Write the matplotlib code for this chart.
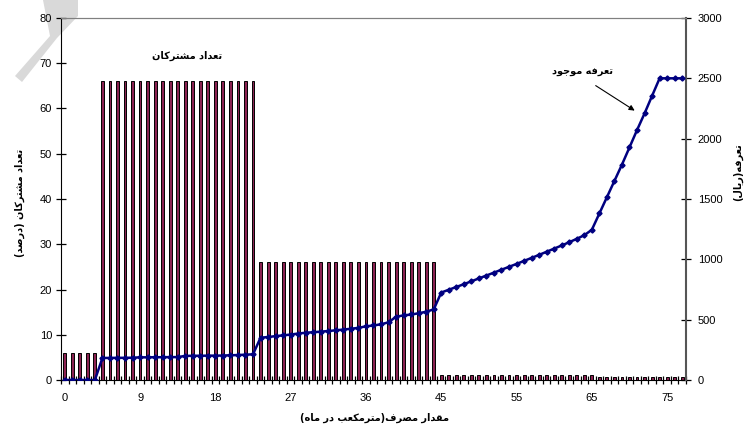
import numpy as np
import matplotlib
matplotlib.use('Agg')
import matplotlib.pyplot as plt
from matplotlib.patches import Polygon

plt.rcParams['font.family'] = ['Liberation Sans', 'DejaVu Sans']

# Data (83 consumption categories)
tick_labels = ['0', '9', '18', '27', '36', '45', '55', '65', '75']

# share of subscribers (%) per category
subscribers = [6, 6, 6, 6, 6,
               66, 66, 66, 66, 66, 66, 66, 66, 66, 66, 66, 66, 66, 66, 66, 66, 66, 66, 66, 66, 66,
               26, 26, 26, 26, 26, 26, 26, 26, 26, 26, 26, 26, 26, 26, 26, 26, 26, 26, 26, 26, 26, 26, 26, 26,
               1.2, 1.2, 1.2, 1.2, 1.2, 1.2, 1.2, 1.2, 1.2, 1.2, 1.2, 1.2, 1.2, 1.2, 1.2, 1.2, 1.2, 1.2, 1.2, 1.2, 1.2,
               0.6, 0.6, 0.6, 0.6, 0.6, 0.6, 0.6, 0.6, 0.6, 0.6, 0.6, 0.6]

# current tariff (rial) per category
tariff = [0, 0, 0, 0, 0,
          183, 183, 184, 184, 185, 188, 188, 189, 189, 190, 190, 200, 201, 201, 202, 202, 203, 205, 207, 210, 213,
          351, 356, 364, 370, 377, 385, 392, 396, 401, 406, 412, 418, 425, 432, 445, 452, 462, 478, 525, 535, 543, 553, 566, 585,
          725, 748, 771, 794, 818, 842, 866, 890, 914, 938, 962, 987, 1012, 1037, 1063, 1089, 1115, 1142, 1170, 1200, 1245,
          1380, 1515, 1650, 1785, 1928, 2071, 2209, 2355, 2500, 2500, 2500, 2500]

# Persian text
lbl_subs = 'تعداد مشترکان'
lbl_tariff = 'تعرفه موجود'
ylab_left = 'تعداد مشترکان (درصد)'
ylab_right = 'تعرفه(ریال)'
xlab = 'مقدار مصرف(مترمکعب در ماه)'

# simple arabic/persian shaping (no bidi lib available)
FORMS = {
    'ا': ('\uFE8D', '\uFE8E', None, None),
    'د': ('\uFEA9', '\uFEAA', None, None),
    'ر': ('\uFEAD', '\uFEAE', None, None),
    'و': ('\uFEED', '\uFEEE', None, None),
    'ب': ('\uFE8F', '\uFE90', '\uFE91', '\uFE92'),
    'ت': ('\uFE95', '\uFE96', '\uFE97', '\uFE98'),
    'ج': ('\uFE9D', '\uFE9E', '\uFE9F', '\uFEA0'),
    'ش': ('\uFEB5', '\uFEB6', '\uFEB7', '\uFEB8'),
    'ص': ('\uFEB9', '\uFEBA', '\uFEBB', '\uFEBC'),
    'ع': ('\uFEC9', '\uFECA', '\uFECB', '\uFECC'),
    'ف': ('\uFED1', '\uFED2', '\uFED3', '\uFED4'),
    'ق': ('\uFED5', '\uFED6', '\uFED7', '\uFED8'),
    'ل': ('\uFEDD', '\uFEDE', '\uFEDF', '\uFEE0'),
    'م': ('\uFEE1', '\uFEE2', '\uFEE3', '\uFEE4'),
    'ن': ('\uFEE5', '\uFEE6', '\uFEE7', '\uFEE8'),
    'ه': ('\uFEE9', '\uFEEA', '\uFEEB', '\uFEEC'),
    'ک': ('\uFB8E', '\uFB8F', '\uFB90', '\uFB91'),
    'ی': ('\uFBFC', '\uFBFD', '\uFBFE', '\uFBFF'),
}

def shape(text):
    n = len(text)
    dual = lambda c: c in FORMS and FORMS[c][2] is not None
    out = []
    for i, c in enumerate(text):
        if c not in FORMS:
            out.append(c)
            continue
        p = i > 0 and dual(text[i-1])
        nx = dual(c) and i + 1 < n and text[i+1] in FORMS
        iso, fin, ini, med = FORMS[c]
        if p and nx:
            out.append(med)
        elif p:
            out.append(fin)
        elif nx:
            out.append(ini)
        else:
            out.append(iso)
    s = ''.join(out)[::-1]
    return s.replace('(', '\0').replace(')', '(').replace('\0', ')')

fa = dict(family='DejaVu Sans', fontweight='bold', fontsize=7)

fig = plt.figure(figsize=(7.44, 4.28), dpi=100)

# faded watermark stroke in the corner (pixel coords, y down)
wm_pts = np.array([(43, 0), (78, 0), (78, 16), (57, 38), (22, 82), (15, 76), (50, 36)])
wm = Polygon(np.column_stack([wm_pts[:, 0] / 744, 1 - wm_pts[:, 1] / 428]), closed=True,
             transform=fig.transFigure, facecolor='#d9d9d9', edgecolor='none', zorder=-1)
fig.patches.append(wm)

ax = fig.add_axes([0.082, 0.1121, 0.840, 0.8459])
ax.patch.set_alpha(0)
x = np.arange(len(subscribers))

ax.bar(x, subscribers, width=0.38, color='#8b2252', edgecolor='black', linewidth=0.7, zorder=2)
ax.set_xlim(-0.5, len(subscribers) - 0.5)
ax.set_ylim(0, 80)
ax.set_yticks(np.arange(0, 81, 10))
ax.set_xticks(np.arange(0, 81, 10))
ax.set_xticklabels(tick_labels)
ax.set_xticks(np.arange(-0.5, len(subscribers)), minor=True)
ax.tick_params(axis='x', which='major', length=0, pad=9, labelsize=8)
ax.tick_params(axis='x', which='minor', direction='inout', length=6, width=0.9)
ax.tick_params(axis='y', direction='inout', length=7, width=0.9, labelsize=8, pad=3)
ax.spines['top'].set_color('#808080')
ax.spines['right'].set_visible(False)

ax.text(16.2, 71.7, shape(lbl_subs), ha='center', va='center', **fa)
fig.text(375 / 744, 1 - 418 / 428, shape(xlab), ha='center', va='center', **fa)
fig.text(20 / 744, 1 - 203 / 428, shape(ylab_left), rotation=90, ha='center', va='center', **fa)

ax2 = ax.twinx()
ax2.plot(x, tariff, color='#000080', linewidth=1.8, marker='D', markersize=2.6, zorder=3)
ax2.set_ylim(0, 3000)
ax2.set_yticks(np.arange(0, 3001, 500))
ax2.tick_params(axis='y', direction='inout', length=7, width=0.9, labelsize=8, pad=5)
ax2.spines['right'].set_color('#555555')
ax2.spines['right'].set_linewidth(1.5)
ax2.spines['top'].set_color('#808080')
for s in ['left', 'bottom']:
    ax2.spines[s].set_visible(False)

ax2.text(68.7, 2552, shape(lbl_tariff), ha='center', va='center', **fa)
ax2.annotate('', xy=(76, 2220), xytext=(70.2, 2452),
             arrowprops=dict(arrowstyle='-|>', color='black', lw=0.8, mutation_scale=8))
fig.text(738 / 744, 1 - 172 / 428, shape(ylab_right), rotation=90, ha='center', va='center', **fa)

plt.savefig('out.png', dpi=100)
